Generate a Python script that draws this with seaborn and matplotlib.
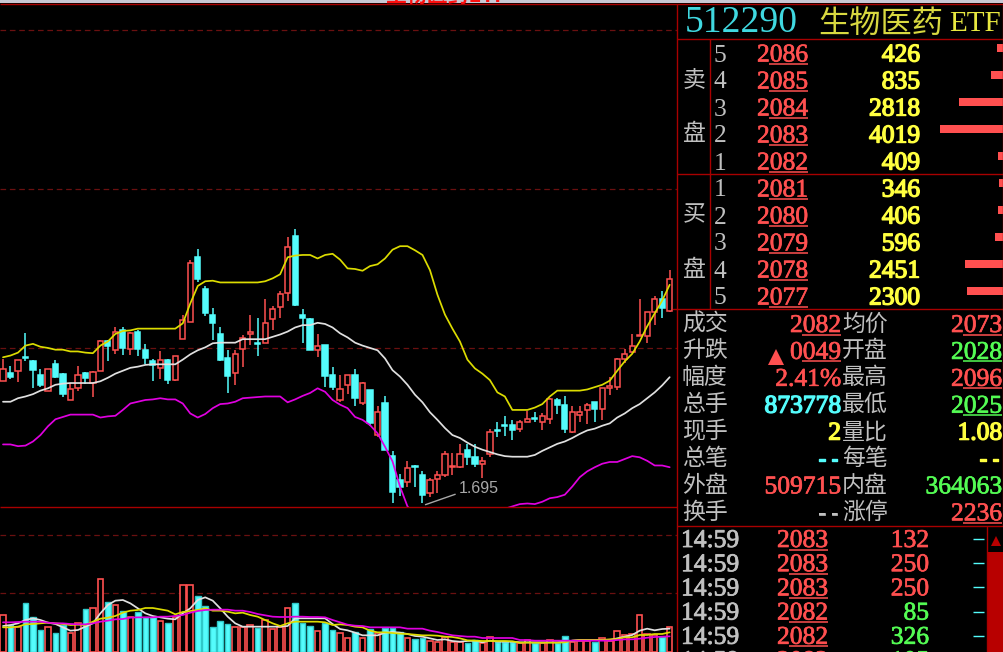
import numpy as np
import pandas as pd
import seaborn as sns
import matplotlib
matplotlib.use('Agg')
import matplotlib.pyplot as plt
import matplotlib.patheffects as pe

# Daily bars, price in 0.001 yuan as the quote panel shows it
opens = [1909,1922,1925,1950,1942,1918,1892,1937,1921,1876,1897,1922,1905,1925,1977,1961,1995,1963,1993,1962,
         1943,1930,1945,1911,1981,2010,2121,2065,2021,1988,1947,1923,1963,1988,1973,1974,2015,2035,2059,2157,
         2021,2014,1961,1970,1918,1876,1902,1918,1870,1893,1816,1870,1780,1739,1735,1763,1747,1717,1741,1747,
         1761,1761,1791,1778,1766,1784,1825,1833,1833,1827,1839,1845,1839,1843,1876,1868,1821,1851,1859,1873,
         1861,1897,1899,1946,1958,1986,1985,2026,2049,2029]
closes = [1929,1916,1944,1948,1927,1901,1929,1916,1886,1895,1918,1914,1924,1977,1969,1992,1965,1991,1963,1947,
          1936,1944,1911,1951,2013,2111,2083,2024,2007,1945,1917,1954,1982,1993,1971,2008,2031,2057,2138,2038,
          2017,1961,1969,1917,1899,1895,1918,1879,1905,1837,1855,1791,1719,1727,1759,1762,1714,1739,1747,1783,
          1763,1783,1779,1767,1772,1821,1823,1831,1824,1839,1844,1844,1848,1878,1868,1827,1855,1855,1867,1860,
          1896,1900,1946,1954,1969,1987,2026,2048,2034,2083]
highs = [1946,1934,1945,1990,1945,1929,1929,1945,1922,1905,1934,1924,1926,1978,1979,2000,2000,1993,1996,1972,
         1946,1960,1946,1952,2022,2116,2134,2071,2034,2000,1962,1962,1987,2022,2016,2049,2037,2062,2154,2168,
         2031,2016,1988,1970,1932,1919,1919,1929,1906,1893,1865,1882,1788,1750,1772,1765,1755,1743,1754,1788,
         1785,1801,1801,1801,1779,1826,1839,1849,1842,1842,1858,1855,1853,1880,1880,1883,1865,1865,1870,1873,
         1897,1916,1947,1963,1988,2049,2027,2054,2063,2098]
lows = [1909,1912,1906,1942,1896,1899,1892,1913,1881,1876,1892,1903,1881,1925,1942,1955,1953,1953,1952,1937,
        1909,1912,1904,1909,1981,2010,2078,2019,1979,1943,1888,1901,1932,1970,1952,1973,1996,2017,2045,2037,
        1973,1961,1950,1899,1893,1872,1886,1866,1867,1831,1813,1790,1699,1711,1727,1727,1699,1710,1717,1745,
        1748,1759,1765,1761,1742,1778,1813,1815,1807,1822,1838,1838,1824,1835,1852,1819,1820,1839,1835,1839,
        1842,1884,1893,1939,1956,1986,1973,2004,2016,2027]

band_upper = [1949,1952,1957,1969,1972,1967,1965,1962,1962,1959,1959,1957,1956,1969,1976,1989,1994,1995,1998,1998,
              1998,1998,1998,1998,2007,2041,2071,2079,2080,2077,2077,2077,2077,2077,2077,2079,2084,2091,2120,2123,
              2124,2124,2118,2124,2126,2116,2101,2100,2097,2105,2108,2118,2133,2139,2139,2132,2124,2098,2056,2022,
              1998,1976,1945,1930,1921,1910,1889,1882,1859,1859,1859,1863,1869,1882,1892,1892,1892,1892,1894,1898,
              1902,1909,1926,1942,1955,1976,2002,2024,2046,2073]
band_mid = [1873,1873,1879,1882,1886,1892,1896,1902,1904,1905,1905,1905,1905,1908,1914,1921,1926,1931,1933,1936,
            1937,1937,1937,1937,1945,1954,1961,1966,1973,1974,1974,1974,1980,1980,1980,1980,1984,1988,1993,2000,
            2004,2004,2008,2006,2000,1990,1983,1974,1969,1965,1961,1947,1927,1916,1902,1885,1872,1855,1842,1828,
            1816,1811,1803,1796,1791,1787,1783,1780,1779,1779,1779,1782,1789,1795,1801,1805,1811,1818,1824,1827,
            1832,1836,1846,1853,1862,1869,1879,1889,1901,1915]
band_lower = [1800,1800,1797,1798,1805,1816,1831,1843,1847,1851,1851,1851,1851,1846,1848,1849,1859,1870,1873,1876,
              1877,1879,1877,1877,1870,1853,1846,1852,1862,1869,1870,1873,1879,1880,1881,1882,1882,1882,1872,1877,
              1883,1888,1896,1890,1876,1868,1862,1847,1842,1833,1819,1796,1771,1728,1694,1680,1670,1660,1650,1645,
              1640,1640,1645,1650,1660,1670,1680,1690,1694,1698,1699,1698,1702,1708,1710,1714,1728,1744,1754,1761,
              1767,1770,1770,1775,1780,1778,1772,1764,1764,1761]

# Volume panel carries no scale, so these are relative heights
volume = [110,81,74,146,104,66,74,56,81,56,88,128,133,218,151,141,124,106,120,104,
          106,92,88,104,200,200,169,138,74,93,84,74,74,81,71,96,69,76,133,146,
          88,79,64,88,66,56,43,61,43,68,56,71,71,61,43,38,41,33,30,46,
          31,29,26,36,26,46,31,31,31,26,36,28,28,36,28,47,31,33,33,31,
          41,33,64,50,54,110,54,51,46,74]
vol_ma_white = [78,81,86,96,101,96,88,84,74,64,66,76,86,116,141,154,156,146,131,116,
                108,104,100,98,116,131,156,164,154,131,106,86,76,76,76,76,76,76,78,101,
                101,101,101,101,84,69,65,58,50,50,50,58,60,58,54,48,46,41,36,38,
                33,31,33,34,29,34,31,31,31,29,29,29,29,29,29,31,34,36,36,36,
                36,36,41,46,51,64,70,65,69,70]
vol_ma_yellow = [74,74,76,83,84,86,88,86,84,81,82,81,91,100,103,108,118,124,126,132,
                 132,128,124,113,120,123,126,131,124,124,121,116,118,111,106,96,86,78,86,91,
                 91,91,91,89,81,83,81,76,74,64,59,59,57,55,54,52,50,50,49,46,
                 45,41,35,34,33,33,33,33,32,28,28,28,28,28,28,29,34,36,36,36,
                 36,38,39,44,44,51,51,54,54,59]
vol_ma_magenta = [89,89,90,91,91,91,88,86,86,84,83,83,86,91,94,98,99,103,104,104,
                  104,106,106,108,111,118,123,126,127,127,127,124,124,120,114,110,106,105,105,106,
                  106,105,105,104,96,89,82,79,78,74,74,74,74,74,70,70,70,64,60,55,
                  50,48,46,46,42,42,42,42,42,36,36,34,34,34,34,34,34,34,34,34,
                  34,34,36,38,38,40,43,45,46,47]

price_grid = [1965, 2237, 2509]
vol_grid = [176, 352]

# Order book
sell_levels = ['5', '4', '3', '2', '1']
sell_prices = ['2086', '2085', '2084', '2083', '2082']
sell_sizes = [426, 835, 2818, 4019, 409]
buy_levels = ['1', '2', '3', '4', '5']
buy_prices = ['2081', '2080', '2079', '2078', '2077']
buy_sizes = [346, 406, 596, 2451, 2300]

# Stats block: label, value, colour key, underlined
stats_left = [('成交', '2082', 'red', True), ('升跌', '0049', 'red', True), ('幅度', '2.41%', 'red', False),
              ('总手', '873778', 'cyan', False), ('现手', '2', 'yellow', False), ('总笔', '--', 'cyan', False),
              ('外盘', '509715', 'red', False), ('换手', '--', 'gray', False)]
stats_right = [('均价', '2073', 'red', True), ('开盘', '2028', 'green', True), ('最高', '2096', 'red', True),
               ('最低', '2025', 'green', True), ('量比', '1.08', 'yellow', False), ('每笔', '--', 'yellow', False),
               ('内盘', '364063', 'green', False), ('涨停', '2236', 'red', True)]

# Tick list
trade_times = ['14:59', '14:59', '14:59', '14:59', '14:59', '14:59']
trade_prices = ['2083', '2083', '2083', '2082', '2082', '2082']
trade_sizes = ['132', '250', '250', '85', '326', '105']
trade_colors = ['red', 'red', 'red', 'green', 'green', 'green']

RED = '#ff5050'
CYAN = '#54fcfc'
YELLOW = '#ffff40'
GREEN = '#54fc54'
GRAY = '#c0c0c0'
BORDER = '#a80000'
GRID = '#6a1010'
COLS = {'red': RED, 'cyan': CYAN, 'yellow': YELLOW, 'green': GREEN, 'gray': GRAY}

sns.set_theme(style='dark', rc={'axes.facecolor': 'black', 'figure.facecolor': 'black'})
plt.rcParams['font.family'] = ['Noto Sans CJK SC', 'DejaVu Sans']

W, H = 1004, 652
fig = plt.figure(figsize=(W / 100, H / 100), dpi=100)

ax = fig.add_axes([0, (H - 507) / H, 677 / W, 507 / H])
ax_vol = fig.add_axes([0, 0, 677 / W, 144 / H])

idx = np.arange(len(closes))
o, c, h, l = map(np.array, (opens, closes, highs, lows))
up = c >= o

# Candles: wick first, then the body so that red ones stay hollow
ax.vlines(idx[up], l[up], h[up], color=RED, lw=1.1)
ax.vlines(idx[~up], l[~up], h[~up], color=CYAN, lw=1.1)
ax.bar(idx[up], (c - o)[up], bottom=o[up], width=0.7, color='black', edgecolor=RED, lw=1.1, zorder=2)
ax.bar(idx[~up], (c - o)[~up], bottom=o[~up], width=0.7, color=CYAN, edgecolor=CYAN, lw=1.1, zorder=2)

for y in price_grid:
    ax.axhline(y, color=GRID, lw=0.9, dashes=(4.5, 3), zorder=1)

for vals, col in ((band_upper, '#dcdc00'), (band_mid, '#e0e0e0'), (band_lower, '#e000e0')):
    sns.lineplot(x=idx, y=vals, color=col, lw=1.25, ax=ax, estimator=None, sort=False, legend=False, zorder=3)

ax.annotate('1.695', xy=(56.4, l[56] - 2), xytext=(33, 16), textcoords='offset pixels',
            color='#a8a8a8', fontsize=11.5, family='Liberation Sans', va='center',
            arrowprops=dict(arrowstyle='-', color='#a8a8a8', lw=1, shrinkA=0, shrinkB=0, relpos=(0, 0.2)))

ax.set_xlim(-0.4, 89.98)
ax.set_ylim(1693, 2560)
ax.set_axis_off()

# Volume bars
vol_df = pd.DataFrame({'idx': idx, 'volume': volume, 'up': up})
sns.barplot(data=vol_df[vol_df.up], x='idx', y='volume', native_scale=True, width=0.74, color='black',
            edgecolor=RED, linewidth=1.2, saturation=1, ax=ax_vol, zorder=2)
sns.barplot(data=vol_df[~vol_df.up], x='idx', y='volume', native_scale=True, width=0.74, color=CYAN,
            edgecolor='#30c8c8', linewidth=1, saturation=1, ax=ax_vol, zorder=2)
for y in vol_grid:
    ax_vol.axhline(y, color=GRID, lw=0.9, dashes=(4.5, 3), zorder=1)
for vals, col in ((vol_ma_white, '#e0e0e0'), (vol_ma_yellow, '#dcdc00'), (vol_ma_magenta, '#e000e0')):
    sns.lineplot(x=idx, y=vals, color=col, lw=1.25, ax=ax_vol, estimator=None, sort=False, legend=False, zorder=3)
ax_vol.set_xlim(-0.4, 89.98)
ax_vol.set_ylim(0, 432)
ax_vol.set_axis_off()

# Order book size bars run leftward from the right edge
ax_book = fig.add_axes([925 / W, (H - 304.5) / H, 79 / W, 270 / H])
ax_book.patch.set_alpha(0)
book_df = pd.DataFrame({'row': sell_levels + ['b' + s for s in buy_levels], 'size': sell_sizes + buy_sizes})
sns.barplot(data=book_df, y='row', x='size', orient='h', color=RED, saturation=1, width=0.3,
            linewidth=0, edgecolor=RED, ax=ax_book)
ax_book.set_xlim(79 * 63, 0)
ax_book.set_axis_off()

# Side panel text and frames in pixel coordinates
ui = fig.add_axes([0, 0, 1, 1], zorder=5)
ui.set_xlim(0, W)
ui.set_ylim(H, 0)
ui.set_axis_off()
ui.patch.set_alpha(0)

SERIF = 'Liberation Serif'
MONO = 'Liberation Mono'
CJK = 'Noto Sans CJK SC'


def digits(x, y, s, col, heavy=False, line=False):
    fam = MONO if s == '--' else SERIF
    t = ui.text(x, y + 2, s, color=col, family=fam, fontsize=18.4 if fam == SERIF else 15.4, ha='right', va='center')
    t.set_path_effects([pe.withStroke(linewidth=1.0 if heavy else 0.5, foreground=col)])
    if line:
        ui.plot([x - 39, x], [y + 10.5, y + 10.5], color=col, lw=1.1, solid_capstyle='butt')


def label(x, y, s):
    ui.text(x, y, s, color=GRAY, family=CJK, fontsize=16.5, ha='left', va='center', fontweight='light')


# top strip and its clipped window title
ui.fill_between([0, W], 0, 3, color='#c8c8d4', lw=0)
ui.text(385, 2, '生物医药ETF', color='#ff1010', family=CJK, fontsize=15, fontweight='bold', va='baseline')

for x0, x1, y in ((0, W, 4), (677, W, 39), (677, W, 174), (677, W, 309), (677, W, 526), (0, 677, 507)):
    ui.plot([x0, x1], [y, y], color=BORDER, lw=1, solid_capstyle='butt')
for x, y0, y1 in ((677, 4, H), (710, 39, 309), (1003, 4, 526)):
    ui.plot([x, x], [y0, y1], color=BORDER, lw=1, solid_capstyle='butt')
ui.plot([673, 677], [309, 309], color=BORDER, lw=1)

ui.text(685, 23, '512290', color='#40d8e0', family=SERIF, fontsize=27.2, va='center')
ui.text(818, 24, '生物医药', color='#d8d840', family=CJK, fontsize=22.5, va='center', fontweight='light')
ui.text(949, 24, 'ETF', color='#e8e840', family=SERIF, fontsize=21, va='center')

for y, s in ((80, '卖'), (134, '盘'), (215, '买'), (269, '盘')):
    label(683, y, s)

levels = sell_levels + buy_levels
prices = sell_prices + buy_prices
sizes = sell_sizes + buy_sizes
for i in range(10):
    y = 53.5 + 27 * i
    ui.text(714, y + 2, levels[i], color=GRAY, family=SERIF, fontsize=18.4, va='center')
    digits(808, y, prices[i], RED, line=True)
    digits(920, y, str(sizes[i]), YELLOW, heavy=True)

for i in range(8):
    y = 324 + 26.9 * i
    name, val, col, ul = stats_left[i]
    label(682, y, name)
    digits(841, y, val, COLS[col], heavy=col in ('cyan', 'yellow'), line=ul)
    name, val, col, ul = stats_right[i]
    label(842, y, name)
    digits(1002, y, val, COLS[col], heavy=col == 'yellow', line=ul)
ui.plot([776], [357], marker='^', color=RED, ms=11, mew=0)

for i in range(len(trade_times)):
    y = 539 + 24.2 * i
    tt = ui.text(681, y + 2, trade_times[i], color=GRAY, family=SERIF, fontsize=18.4, va='center')
    tt.set_path_effects([pe.withStroke(linewidth=0.6, foreground=GRAY)])
    digits(828, y, trade_prices[i], RED, line=True)
    digits(929, y, trade_sizes[i], COLS[trade_colors[i]])
    ui.plot([973, 984], [y, y], color=CYAN, lw=1, solid_capstyle='butt')

# scrollbar on the right of the tick list
ui.fill_between([987, W], 552, H, color='#b80000', lw=0)
ui.plot([987, 987], [527, H], color=BORDER, lw=1)
ui.plot([996], [541], marker='^', color='#b80000', ms=7, mew=0)

ui.set_xlim(0, W)
ui.set_ylim(H, 0)
fig.savefig('out.png', dpi=100, facecolor='black')
